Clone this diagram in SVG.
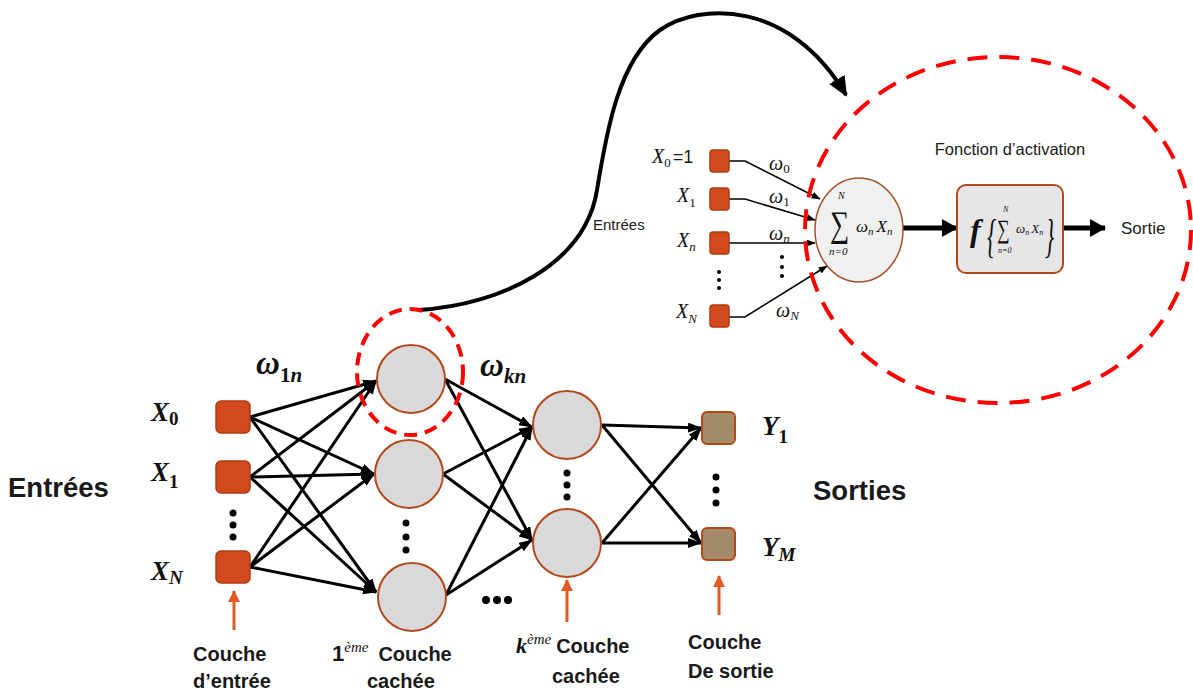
<svg xmlns="http://www.w3.org/2000/svg" width="1193" height="695" viewBox="0 0 1193 695">
<defs>
<style>
.conn line{stroke:#000;stroke-width:3;marker-end:url(#ah)}
.thin line,.thin polyline{stroke:#000;stroke-width:1.5;fill:none;marker-end:url(#ahs)}
.inp{fill:#d2491b;stroke:#b03c12;stroke-width:1.5}
.out{fill:#a38b69;stroke:#b5481a;stroke-width:2}
.neu{fill:#d9d9d9;stroke:#b5481a;stroke-width:2}
.dash{fill:none;stroke:#ff0000;stroke-width:4}
.m{font-family:"Liberation Serif",serif;font-style:italic;font-weight:bold;fill:#111}
.mi{font-family:"Liberation Serif",serif;font-style:italic;fill:#111}
.up{font-style:normal}
.lbl{font-family:"Liberation Sans",Arial,sans-serif;font-weight:bold;fill:#1a1a1a}
.sl{font-family:"Liberation Sans",Arial,sans-serif;fill:#1a1a1a}
.oa{stroke:#e05a22;stroke-width:3;marker-end:url(#aho)}
.dot{fill:#000}
</style>
<marker id="ah" viewBox="0 0 14 10" markerUnits="userSpaceOnUse" markerWidth="14" markerHeight="10" refX="13" refY="5" orient="auto"><path d="M0,0 L14,5 L0,10 z" fill="#000"/></marker>
<marker id="ahs" viewBox="0 0 10 8" markerUnits="userSpaceOnUse" markerWidth="9" markerHeight="7" refX="9.5" refY="4" orient="auto"><path d="M0,0 L10,4 L0,8 z" fill="#000"/></marker>
<marker id="ahb" viewBox="0 0 16 18" markerUnits="userSpaceOnUse" markerWidth="16" markerHeight="18" refX="15" refY="9" orient="auto"><path d="M0,0 L16,9 L0,18 z" fill="#000"/></marker>
<marker id="ahc" viewBox="0 0 20 18" markerUnits="userSpaceOnUse" markerWidth="20" markerHeight="18" refX="18" refY="9" orient="auto"><path d="M0,0 L20,9 L0,18 z" fill="#000"/></marker>
<marker id="aho" viewBox="0 0 12 12" markerUnits="userSpaceOnUse" markerWidth="12" markerHeight="12" refX="11" refY="6" orient="auto"><path d="M0,0 L12,6 L0,12 z" fill="#e05a22"/></marker>
</defs>
<rect width="1193" height="695" fill="#fff"/>

<!-- connectors -->
<g id="connectors">
<g class="conn">
<line x1="250" y1="417" x2="376" y2="381"/>
<line x1="250" y1="417" x2="374" y2="474"/>
<line x1="250" y1="417" x2="376" y2="592"/>
<line x1="250" y1="477" x2="376" y2="381"/>
<line x1="250" y1="477" x2="374" y2="474"/>
<line x1="250" y1="477" x2="376" y2="592"/>
<line x1="250" y1="567" x2="376" y2="381"/>
<line x1="250" y1="567" x2="374" y2="474"/>
<line x1="250" y1="567" x2="376" y2="592"/>
<line x1="445" y1="379" x2="532" y2="427"/>
<line x1="445" y1="379" x2="532" y2="540"/>
<line x1="443" y1="474" x2="532" y2="427"/>
<line x1="443" y1="474" x2="532" y2="540"/>
<line x1="446" y1="595" x2="532" y2="427"/>
<line x1="446" y1="595" x2="532" y2="540"/>
<line x1="602" y1="425" x2="701" y2="428"/>
<line x1="602" y1="425" x2="701" y2="543"/>
<line x1="602" y1="543" x2="701" y2="428"/>
<line x1="602" y1="543" x2="701" y2="543"/>
</g>
<g class="thin">
<polyline points="729,161 745,161 820,199"/>
<polyline points="729,199 745,199 815,220"/>
<polyline points="729,243 815,243"/>
<polyline points="729,317 745,317 827,266"/>
</g>
<line x1="903" y1="228" x2="957" y2="228" stroke="#000" stroke-width="5" marker-end="url(#ahb)"/>
<line x1="1063" y1="228" x2="1105" y2="228" stroke="#000" stroke-width="5" marker-end="url(#ahb)"/>
<path d="M419,310 C500,305 585,265 597,190 C606,135 618,60 660,30 C700,2 790,0 846,95" fill="none" stroke="#000" stroke-width="4" marker-end="url(#ahc)"/>
<line class="oa" x1="234" y1="630" x2="234" y2="591"/>
<line class="oa" x1="567" y1="622" x2="567" y2="580"/>
<line class="oa" x1="719" y1="615" x2="719" y2="576"/>
</g>

<!-- input nodes -->
<g id="x0"><rect class="inp" x="216" y="401" width="34" height="32" rx="5"/>
<text class="m" x="151" y="421" font-size="27">X<tspan class="up" font-size="19" dy="4">0</tspan></text></g>
<g id="x1"><rect class="inp" x="216" y="461" width="34" height="32" rx="5"/>
<text class="m" x="151" y="481" font-size="27">X<tspan class="up" font-size="19" dy="7">1</tspan></text></g>
<g id="xN"><rect class="inp" x="216" y="551" width="34" height="32" rx="5"/>
<text class="m" x="151" y="580" font-size="27">X<tspan font-size="19" dy="4">N</tspan></text></g>
<g id="in-dots"><circle class="dot" cx="233" cy="513" r="3.5"/><circle class="dot" cx="233" cy="525" r="3.5"/><circle class="dot" cx="233" cy="537" r="3.5"/></g>

<!-- hidden layer 1 -->
<g id="h1"><circle class="neu" cx="411" cy="379" r="34"/></g>
<g id="h2"><circle class="neu" cx="409" cy="474" r="34"/></g>
<g id="h3"><circle class="neu" cx="412" cy="597" r="34"/></g>
<g id="h-dots"><circle class="dot" cx="406" cy="523" r="3.5"/><circle class="dot" cx="406" cy="537" r="3.5"/><circle class="dot" cx="406" cy="550" r="3.5"/></g>
<ellipse class="dash" cx="410" cy="372" rx="53" ry="63" stroke-dasharray="13,8"/>

<!-- hidden layer k -->
<g id="k1"><circle class="neu" cx="567" cy="425" r="34"/></g>
<g id="k2"><circle class="neu" cx="567" cy="543" r="34"/></g>
<g id="k-dots"><circle class="dot" cx="567" cy="473" r="3.5"/><circle class="dot" cx="567" cy="485" r="3.5"/><circle class="dot" cx="567" cy="497" r="3.5"/></g>
<g id="mid-dots"><circle class="dot" cx="486" cy="600" r="4"/><circle class="dot" cx="497" cy="600" r="4"/><circle class="dot" cx="508" cy="600" r="4"/></g>

<!-- outputs -->
<g id="y1"><rect class="out" x="702" y="412" width="33" height="32" rx="5"/>
<text class="m" x="762" y="435" font-size="27">Y<tspan class="up" font-size="19" dy="8">1</tspan></text></g>
<g id="yM"><rect class="out" x="702" y="528" width="33" height="32" rx="5"/>
<text class="m" x="762" y="556" font-size="27">Y<tspan font-size="19" dy="5">M</tspan></text></g>
<g id="out-dots"><circle class="dot" cx="716" cy="477" r="3.5"/><circle class="dot" cx="716" cy="490" r="3.5"/><circle class="dot" cx="716" cy="503" r="3.5"/></g>

<!-- weight labels -->
<text class="m" x="256" y="374" font-size="33">ω<tspan font-size="21" dy="8"><tspan class="up">1</tspan>n</tspan></text>
<text class="m" x="480" y="376" font-size="33">ω<tspan font-size="21" dy="7">kn</tspan></text>

<!-- side labels -->
<text class="lbl" x="8" y="497" font-size="27.5">Entrées</text>
<text class="lbl" x="813" y="500" font-size="27.5">Sorties</text>

<!-- bottom labels -->
<g id="lbl-input"><text class="lbl" x="193" y="661" font-size="20">Couche</text><text class="lbl" x="193" y="688" font-size="20">d’entrée</text></g>
<g id="lbl-h1"><text x="332" y="661"><tspan class="lbl" font-size="22" font-family="Liberation Serif,serif">1</tspan><tspan class="mi" font-size="15" dy="-9">ème</tspan><tspan class="lbl" font-size="20" dx="10" dy="9">Couche</tspan></text><text class="lbl" x="367" y="688" font-size="20">cachée</text></g>
<g id="lbl-hk"><text x="516" y="653"><tspan class="m" font-size="22">k</tspan><tspan class="mi" font-size="15" dy="-9">ème</tspan><tspan class="lbl" font-size="20" dx="5" dy="9">Couche</tspan></text><text class="lbl" x="552" y="683" font-size="20">cachée</text></g>
<g id="lbl-out"><text class="lbl" x="688" y="649" font-size="20">Couche</text><text class="lbl" x="688" y="678" font-size="20">De sortie</text></g>

<!-- detail view -->
<ellipse class="dash" cx="998" cy="230" rx="193" ry="173" stroke-dasharray="20,12"/>
<text class="sl" x="593" y="230" font-size="15">Entrées</text>
<g id="d-x0"><rect class="inp" x="710" y="150" width="19" height="22" rx="3"/>
<text class="mi" x="652" y="163" font-size="20">X<tspan class="up" font-size="13" dy="4">0</tspan><tspan class="sl" font-style="normal" font-size="18" dx="2" dy="-4">=1</tspan></text></g>
<g id="d-x1"><rect class="inp" x="710" y="188" width="19" height="22" rx="3"/>
<text class="mi" x="677" y="202" font-size="20">X<tspan class="up" font-size="13" dy="5">1</tspan></text></g>
<g id="d-xn"><rect class="inp" x="710" y="232" width="19" height="22" rx="3"/>
<text class="mi" x="677" y="247" font-size="20">X<tspan font-size="13" dy="4">n</tspan></text></g>
<g id="d-xN"><rect class="inp" x="710" y="305" width="19" height="22" rx="3"/>
<text class="mi" x="676" y="318" font-size="20">X<tspan font-size="13" dy="5">N</tspan></text></g>
<g><circle class="dot" cx="719" cy="272" r="2"/><circle class="dot" cx="719" cy="280" r="2"/><circle class="dot" cx="719" cy="288" r="2"/></g>
<g><circle class="dot" cx="782" cy="257" r="2"/><circle class="dot" cx="782" cy="267" r="2"/><circle class="dot" cx="782" cy="276" r="2"/></g>
<text class="mi" x="769" y="170" font-size="20">ω<tspan class="up" font-size="13" dy="3">0</tspan></text>
<text class="mi" x="769" y="203" font-size="20">ω<tspan class="up" font-size="13" dy="3">1</tspan></text>
<text class="mi" x="769" y="240" font-size="20">ω<tspan font-size="13" dy="3">n</tspan></text>
<text class="mi" x="776" y="317" font-size="20">ω<tspan font-size="13" dy="3">N</tspan></text>

<g id="sum"><ellipse cx="859" cy="230" rx="44" ry="52" fill="#f0f0f0" stroke="#a0522d" stroke-width="1.5"/>
<text class="mi" font-style="normal" font-size="30" transform="translate(830,236) scale(0.9,1.2)">∑</text>
<text class="mi" x="838" y="199" font-size="10">N</text>
<text class="mi" x="829" y="255" font-size="11">n=0</text>
<text class="mi" x="856" y="232" font-size="17">ω<tspan font-size="11" dy="3">n</tspan><tspan font-size="17" dx="3" dy="-3">X</tspan><tspan font-size="11" dy="3">n</tspan></text></g>

<g id="activation"><rect x="957" y="185" width="106" height="88" rx="9" fill="#e6e6e6" stroke="#b5481a" stroke-width="2"/>
<text class="m" x="970" y="241" font-size="32">f</text>
<text class="mi" x="987" y="252" font-size="46" font-weight="normal" font-style="normal" fill="#333" transform="translate(987,252) scale(0.5,1) translate(-987,-252)">{</text>
<text class="mi" font-style="normal" font-size="22" transform="translate(997,238) scale(0.8,1.2)">∑</text>
<text class="mi" x="1003" y="212" font-size="8">N</text>
<text class="mi" x="998" y="253" font-size="8">n=0</text>
<text class="mi" x="1016" y="233" font-size="13">ω<tspan font-size="8" dy="2">n</tspan><tspan font-size="13" dx="2" dy="-2">X</tspan><tspan font-size="8" dy="2">n</tspan></text>
<text class="mi" x="1045" y="252" font-size="46" font-style="normal" fill="#333" transform="translate(1045,252) scale(0.5,1) translate(-1045,-252)">}</text></g>
<text class="sl" x="1010" y="155" font-size="16.5" text-anchor="middle">Fonction d’activation</text>
<text class="sl" x="1121" y="234" font-size="17">Sortie</text>
</svg>
